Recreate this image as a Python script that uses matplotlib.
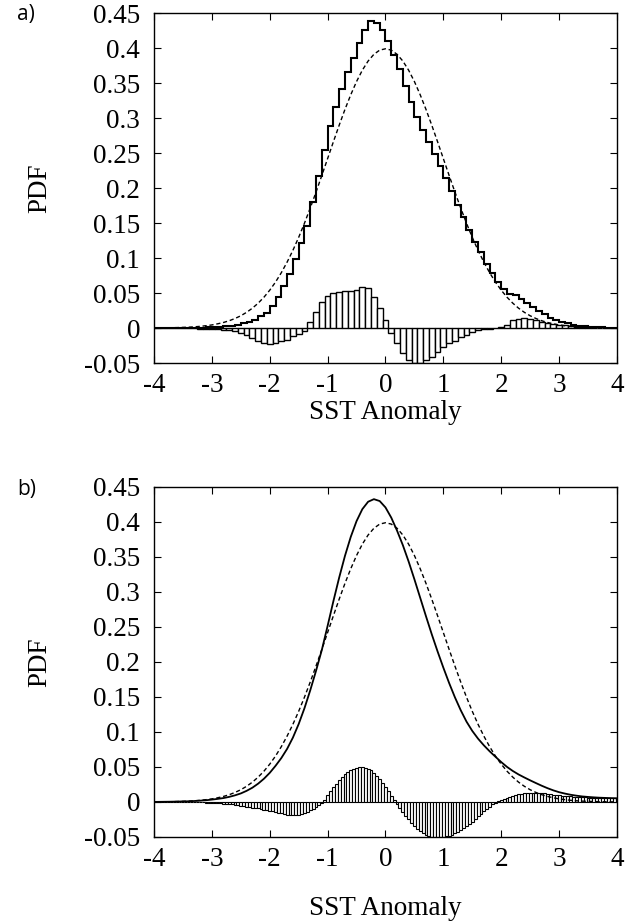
#!/usr/bin/env python3

import numpy as np
import matplotlib.pyplot as plt

# bin centres / edges (0.1 step) and fine grid (0.05 step) for panel b
x_grid = np.round(np.linspace(-4, 4, 81), 2)
x_fine = np.round(np.linspace(-4, 4, 161), 3)

# dashed reference curve, read at x = -4.0 ... 4.0
normal_pdf = [
    0.0001, 0.0002, 0.0003, 0.0004, 0.0006, 0.0009, 0.0012, 0.0017, 0.0024, 0.0033,
    0.0044, 0.0060, 0.0079, 0.0104, 0.0136, 0.0175, 0.0224, 0.0283, 0.0355, 0.0440,
    0.0540, 0.0656, 0.0790, 0.0941, 0.1109, 0.1295, 0.1497, 0.1714, 0.1942, 0.2179,
    0.2420, 0.2661, 0.2897, 0.3123, 0.3332, 0.3521, 0.3683, 0.3814, 0.3910, 0.3970,
    0.3989, 0.3970, 0.3910, 0.3814, 0.3683, 0.3521, 0.3332, 0.3123, 0.2897, 0.2661,
    0.2420, 0.2179, 0.1942, 0.1714, 0.1497, 0.1295, 0.1109, 0.0941, 0.0790, 0.0656,
    0.0540, 0.0440, 0.0355, 0.0283, 0.0224, 0.0175, 0.0136, 0.0104, 0.0079, 0.0060,
    0.0044, 0.0033, 0.0024, 0.0017, 0.0012, 0.0009, 0.0006, 0.0004, 0.0003, 0.0002,
    0.0001,
]

# panel a: histogram, one value per bin starting at -4.0, -3.9, ... 3.9
hist_a = [
    0.0001, 0.0001, 0.0001, 0.0001, 0.0001, 0.0002, 0.0003, 0.0004, 0.0006, 0.0009,
    0.0013, 0.0018, 0.0025, 0.0035, 0.0050, 0.0067, 0.0090, 0.0120, 0.0165, 0.0220,
    0.0310, 0.0436, 0.0600, 0.0776, 0.0989, 0.1215, 0.1457, 0.1804, 0.2172, 0.2549,
    0.2880, 0.3161, 0.3417, 0.3653, 0.3862, 0.4071, 0.4263, 0.4384, 0.4360, 0.4260,
    0.4099, 0.3900, 0.3700, 0.3454, 0.3223, 0.3021, 0.2832, 0.2663, 0.2487, 0.2321,
    0.2150, 0.1959, 0.1762, 0.1584, 0.1402, 0.1235, 0.1079, 0.0921, 0.0780, 0.0661,
    0.0560, 0.0490, 0.0465, 0.0413, 0.0364, 0.0305, 0.0246, 0.0194, 0.0149, 0.0120,
    0.0090, 0.0067, 0.0048, 0.0034, 0.0024, 0.0016, 0.0011, 0.0008, 0.0005, 0.0003,
]

# panel a: difference bars at x = -4.0 ... 4.0
diff_a = [
    0.0, 0.0, -0.0001, -0.0001, -0.0002, -0.0003, -0.0004, -0.0006, -0.0008, -0.0011,
    -0.0015, -0.0020, -0.0027, -0.0035, -0.0047, -0.0065, -0.0095, -0.0140, -0.0190, -0.0220,
    -0.0230, -0.0220, -0.0190, -0.0165, -0.0120, -0.0080, -0.0040, 0.0090, 0.0230, 0.0370,
    0.0460, 0.0500, 0.0520, 0.0530, 0.0530, 0.0550, 0.0580, 0.0570, 0.0450, 0.0290,
    0.0110, -0.0070, -0.0210, -0.0360, -0.0460, -0.0500, -0.0500, -0.0460, -0.0410, -0.0340,
    -0.0270, -0.0220, -0.0180, -0.0130, -0.0095, -0.0060, -0.0030, -0.0020, -0.0010, 0.0005,
    0.0020, 0.0050, 0.0110, 0.0130, 0.0140, 0.0130, 0.0110, 0.0090, 0.0070, 0.0060,
    0.0050, 0.0040, 0.0030, 0.0020, 0.0015, 0.0010, 0.0007, 0.0005, 0.0003, 0.0002,
    0.0001,
]

# panel b: smooth estimate at x = -4.0 ... 4.0
kde_b = [
    0.0001, 0.0002, 0.0003, 0.0004, 0.0006, 0.0008, 0.0010, 0.0014, 0.0019, 0.0025,
    0.0034, 0.0044, 0.0056, 0.0073, 0.0095, 0.0122, 0.0159, 0.0204, 0.0262, 0.0332,
    0.0416, 0.0516, 0.0627, 0.0758, 0.0919, 0.1113, 0.1339, 0.1595, 0.1874, 0.2171,
    0.2515, 0.2869, 0.3206, 0.3516, 0.3787, 0.4012, 0.4183, 0.4289, 0.4326, 0.4299,
    0.4208, 0.4062, 0.3876, 0.3669, 0.3435, 0.3181, 0.2917, 0.2653, 0.2395, 0.2151,
    0.1919, 0.1699, 0.1495, 0.1311, 0.1148, 0.1015, 0.0904, 0.0809, 0.0724, 0.0646,
    0.0570, 0.0501, 0.0443, 0.0393, 0.0350, 0.0309, 0.0270, 0.0232, 0.0197, 0.0166,
    0.0140, 0.0120, 0.0103, 0.0090, 0.0079, 0.0072, 0.0066, 0.0061, 0.0058, 0.0055,
    0.0053,
]

# panel b: difference impulses at x = -4.00, -3.95, ... 4.00
diff_b = [
    0.0, 0.0, 0.0, 0.0, 0.0, 0.0, 0.0, 0.0, 0.0, -0.0001,
    -0.0001, -0.0001, -0.0002, -0.0002, -0.0003, -0.0004, -0.0005, -0.0006, -0.0008, -0.0009,
    -0.0010, -0.0013, -0.0016, -0.0019, -0.0023, -0.0027, -0.0031, -0.0036, -0.0041, -0.0047,
    -0.0053, -0.0059, -0.0065, -0.0072, -0.0079, -0.0086, -0.0093, -0.0100, -0.0108, -0.0116,
    -0.0124, -0.0132, -0.0140, -0.0152, -0.0163, -0.0174, -0.0183, -0.0188, -0.0190, -0.0188,
    -0.0182, -0.0172, -0.0158, -0.0140, -0.0119, -0.0095, -0.0068, -0.0039, -0.0008, 0.0030,
    0.0095, 0.0152, 0.0208, 0.0260, 0.0309, 0.0354, 0.0393, 0.0427, 0.0455, 0.0476,
    0.0491, 0.0499, 0.0500, 0.0491, 0.0475, 0.0450, 0.0416, 0.0376, 0.0329, 0.0276,
    0.0219, 0.0157, 0.0092, 0.0027, -0.0034, -0.0090, -0.0145, -0.0198, -0.0248, -0.0296,
    -0.0340, -0.0380, -0.0415, -0.0445, -0.0470, -0.0489, -0.0502, -0.0509, -0.0510, -0.0507,
    -0.0501, -0.0492, -0.0480, -0.0465, -0.0447, -0.0426, -0.0403, -0.0377, -0.0349, -0.0315,
    -0.0280, -0.0243, -0.0205, -0.0168, -0.0132, -0.0098, -0.0066, -0.0036, -0.0010, 0.0012,
    0.0030, 0.0046, 0.0061, 0.0075, 0.0088, 0.0100, 0.0110, 0.0119, 0.0126, 0.0131,
    0.0134, 0.0135, 0.0134, 0.0132, 0.0128, 0.0123, 0.0118, 0.0112, 0.0106, 0.0101,
    0.0096, 0.0091, 0.0087, 0.0083, 0.0079, 0.0076, 0.0073, 0.0070, 0.0067, 0.0065,
    0.0063, 0.0061, 0.0060, 0.0058, 0.0057, 0.0056, 0.0055, 0.0054, 0.0053, 0.0053,
    0.0052,
]

xticks = [-4, -3, -2, -1, 0, 1, 2, 3, 4]
xtick_labels = ['-4', '-3', '-2', '-1', '0', '1', '2', '3', '4']
yticks = [-0.05, 0, 0.05, 0.1, 0.15, 0.2, 0.25, 0.3, 0.35, 0.4, 0.45]
ytick_labels = ['-0.05', '0', '0.05', '0.1', '0.15', '0.2', '0.25', '0.3',
                '0.35', '0.4', '0.45']


def style(ax, xlabel_y):
    ax.set_xlim(-4, 4)
    ax.set_ylim(-0.05, 0.45)
    ax.set_xticks(xticks)
    ax.set_xticklabels(xtick_labels)
    ax.set_yticks(yticks)
    ax.set_yticklabels(ytick_labels)
    ax.tick_params(direction='in', top=True, right=True, length=5, width=0.8,
                   labelsize=19.5)
    ax.tick_params(axis='x', pad=7)
    ax.tick_params(axis='y', pad=10)
    for s in ax.spines.values():
        s.set_linewidth(1.0)
    ax.set_ylabel('PDF', fontsize=19.5)
    ax.yaxis.set_label_coords(-0.22, 0.5)
    ax.set_xlabel('SST Anomaly', fontsize=19.5)
    ax.xaxis.set_label_coords(0.5, xlabel_y)


def main():
    plt.rcParams['font.family'] = ['Liberation Serif', 'DejaVu Serif']
    fig = plt.figure(figsize=(6.35, 9.23), dpi=100)

    ax_a = fig.add_axes([0.2425, 0.6067, 0.7291, 0.3792])
    ax_a.bar(x_grid, diff_a, width=0.1, facecolor='white', edgecolor='black',
             linewidth=1.0, zorder=2)
    ax_a.plot(x_grid, normal_pdf, color='black', lw=1.0, dashes=(3, 2), zorder=3)
    ax_a.stairs(hist_a, x_grid, baseline=None, color='black', lw=1.5, zorder=4)
    style(ax_a, -0.105)

    ax_b = fig.add_axes([0.2425, 0.0932, 0.7291, 0.3792])
    ax_b.bar(x_fine, diff_b, width=0.05, facecolor='white', edgecolor='black',
             linewidth=0.8, zorder=2)
    ax_b.plot(x_grid, normal_pdf, color='black', lw=1.0, dashes=(3, 2), zorder=3)
    ax_b.plot(x_grid, kde_b, color='black', lw=1.3, zorder=4)
    style(ax_b, -0.17)

    fig.text(0.027, 0.984, 'a)', fontsize=15, family='Open Sans', va='center')
    fig.text(0.027, 0.470, 'b)', fontsize=15, family='Open Sans', va='center')

    fig.savefig('out.png', dpi=100)


if __name__ == '__main__':
    main()
